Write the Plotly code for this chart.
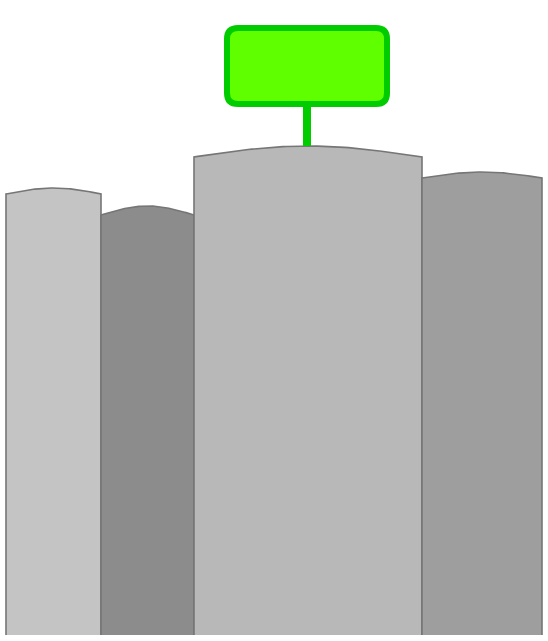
import numpy as np
import plotly.graph_objects as go

# ---- data ----
categories = ["A", "B", "C", "D"]
widths = [95, 93, 228, 120]          # column widths (share units)
values = [447, 429, 489, 463]        # column heights at the crest
highlight = "C"                      # column marked with the green sign

# ---- styles ----
fills = ["#c4c4c4", "#8c8c8c", "#b8b8b8", "#9e9e9e"]
bumps = [6, 9, 11, 6]                # curvature of the column tops
edge_color = "#767676"

fig = go.Figure()
left = 0.0
centers = {}
for cat, w, v, col, b in zip(categories, widths, values, fills, bumps):
    t = np.linspace(0, 1, 60)
    xs = left + w * t
    ys = (v - b) + b * np.sin(np.pi * t)
    # filled body
    fig.add_trace(go.Scatter(
        x=np.concatenate([[left], xs, [left + w]]),
        y=np.concatenate([[0], ys, [0]]),
        fill="toself", fillcolor=col, mode="lines",
        line=dict(width=0), hoverinfo="skip", showlegend=False))
    # outline (sides + top, no bottom)
    fig.add_trace(go.Scatter(
        x=np.concatenate([[left], xs, [left + w]]),
        y=np.concatenate([[0], ys, [0]]),
        mode="lines", line=dict(color=edge_color, width=1.6),
        hoverinfo="skip", showlegend=False))
    centers[cat] = (left + w / 2, v)
    left += w

# green sign above highlighted column
cx, top = centers[highlight]
cx -= 1
box_w, box_h, gap, r = 160, 76, 42, 11
y0 = top + gap
y1 = y0 + box_h
x0 = cx - box_w / 2
x1 = cx + box_w / 2
fig.add_shape(type="line", x0=cx, x1=cx, y0=top, y1=y0,
              line=dict(color="#00cc00", width=8), layer="above")
path = (f"M {x0+r},{y0} L {x1-r},{y0} Q {x1},{y0} {x1},{y0+r} "
        f"L {x1},{y1-r} Q {x1},{y1} {x1-r},{y1} L {x0+r},{y1} "
        f"Q {x0},{y1} {x0},{y1-r} L {x0},{y0+r} Q {x0},{y0} {x0+r},{y0} Z")
fig.add_shape(type="path", path=path, fillcolor="#5fff00",
              line=dict(color="#00cc00", width=6), layer="above")

fig.update_layout(
    width=548, height=641,
    margin=dict(l=0, r=0, t=0, b=0),
    paper_bgcolor="white", plot_bgcolor="white",
    xaxis=dict(range=[-6, 542], visible=False, fixedrange=True),
    yaxis=dict(range=[-6, 635], visible=False, fixedrange=True),
    showlegend=False,
)
fig.write_html("out.html", config={"displayModeBar": False})
